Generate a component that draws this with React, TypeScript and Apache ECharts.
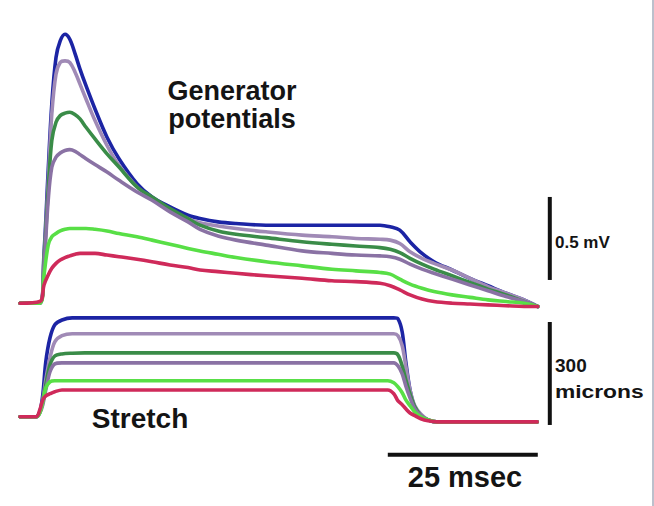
import { useEffect, useRef } from "react";
import * as echarts from "echarts";

// ---- Generator potentials (mV) ----
const potentialTimeMs = [
  0, 3.3, 4, 4.7, 5.3, 6, 6.7, 7.5, 8.3, 9.2, 10, 11, 12.5, 14.5, 16.5, 19.5, 22, 25, 28, 30,
  33, 36, 41, 47, 52, 56, 60, 61.7, 63.3, 65, 67, 69, 72, 75, 78, 81, 84, 86.3,
];
const potentialBlue = [
  0, 0, 0.3, 0.8, 1.2, 1.48, 1.58, 1.62, 1.59, 1.5, 1.41, 1.31, 1.17, 1.0, 0.87, 0.72, 0.64, 0.58, 0.53, 0.51,
  0.49, 0.48, 0.47, 0.47, 0.47, 0.47, 0.47, 0.46, 0.44, 0.37, 0.3, 0.25, 0.2, 0.15, 0.105, 0.06, 0.02, -0.02,
];
const potentialLavender = [
  0, 0, 0.28, 0.73, 1.14, 1.38, 1.45, 1.46, 1.45, 1.39, 1.32, 1.23, 1.1, 0.95, 0.83, 0.7, 0.63, 0.56, 0.51, 0.485,
  0.465, 0.45, 0.43, 0.41, 0.4, 0.39, 0.385, 0.38, 0.36, 0.31, 0.27, 0.24, 0.2, 0.15, 0.1, 0.06, 0.02, -0.02,
];
const potentialGreen = [
  0, 0, 0.26, 0.68, 0.98, 1.09, 1.13, 1.145, 1.15, 1.135, 1.11, 1.06, 0.99, 0.9, 0.82, 0.7, 0.64, 0.57, 0.51, 0.47,
  0.435, 0.415, 0.395, 0.37, 0.355, 0.345, 0.335, 0.325, 0.305, 0.27, 0.235, 0.205, 0.165, 0.125, 0.085, 0.05, 0.01, -0.02,
];
const potentialPurple = [
  0, 0, 0.23, 0.62, 0.82, 0.88, 0.905, 0.92, 0.925, 0.915, 0.895, 0.87, 0.835, 0.79, 0.74, 0.67, 0.62, 0.55, 0.49, 0.445,
  0.405, 0.38, 0.35, 0.315, 0.3, 0.29, 0.285, 0.28, 0.265, 0.235, 0.205, 0.18, 0.145, 0.11, 0.075, 0.04, 0.01, -0.02,
];
const potentialLightGreen = [
  0, 0, 0.17, 0.35, 0.4, 0.42, 0.435, 0.445, 0.45, 0.45, 0.45, 0.45, 0.445, 0.435, 0.42, 0.4, 0.38, 0.355, 0.33, 0.315,
  0.295, 0.275, 0.25, 0.225, 0.205, 0.195, 0.185, 0.175, 0.145, 0.115, 0.09, 0.07, 0.05, 0.035, 0.02, 0.01, 0, -0.02,
];
const potentialCrimson = [
  0, 0.01, 0.11, 0.17, 0.21, 0.24, 0.26, 0.275, 0.285, 0.295, 0.3, 0.3, 0.3, 0.29, 0.28, 0.265, 0.25, 0.23, 0.215, 0.2,
  0.19, 0.18, 0.165, 0.15, 0.135, 0.13, 0.12, 0.105, 0.08, 0.05, 0.025, 0.01, 0, -0.005, -0.01, -0.015, -0.02, -0.02,
];

// ---- Stretch (microns) ----
const stretchTimeMs = [
  0, 2.7, 3.3, 3.8, 4.3, 5, 5.8, 7, 8.7, 10.8, 20, 30, 46.7, 61.3, 62.3, 63, 63.7, 64.3, 65, 65.8,
  66.8, 68, 69.5, 73.3, 86.2,
];
const stretchBlue = [9, 9, 23, 73, 169, 239, 277, 291, 297, 297, 297, 297, 297, 297, 297, 294, 256, 169, 87, 35, 12, 0, -6, -6, -6];
const stretchLavender = [9, 9, 23, 58, 117, 181, 227, 245, 251, 251, 251, 251, 251, 251, 251, 245, 216, 157, 87, 41, 17, 0, -6, -6, -6];
const stretchGreen = [9, 9, 23, 52, 102, 160, 186, 192, 194, 195, 195, 195, 195, 195, 195, 189, 157, 117, 76, 38, 12, 0, -6, -6, -6];
const stretchPurple = [9, 9, 20, 44, 87, 140, 163, 166, 166, 166, 166, 166, 166, 166, 166, 157, 134, 99, 64, 32, 12, 0, -6, -6, -6];
const stretchLightGreen = [9, 9, 20, 52, 93, 111, 114, 114, 114, 114, 114, 114, 114, 114, 108, 96, 79, 58, 41, 23, 9, 0, -6, -6, -6];
const stretchCrimson = [9, 9, 29, 58, 70, 76, 82, 87, 87, 87, 87, 87, 87, 87, 76, 55, 44, 32, 20, 12, 3, -3, -6, -6, -6];

// ---- Scale bars ----
const scaleBarTimeMs = 88.3;
const voltageBarMv = [0.14, 0.64]; // 0.5 mV
const stretchBarMicrons = [-15, 285]; // 300 microns
const timeBarMs = [61.3, 86.3]; // 25 msec
const timeBarLevel = -102;

const traceColors = ["#1c24a4", "#a08ab6", "#3a8c48", "#8a72a4", "#58df46", "#cf2a5a"];
const potentialTraces = [potentialBlue, potentialLavender, potentialGreen, potentialPurple, potentialLightGreen, potentialCrimson];
const stretchTraces = [stretchBlue, stretchLavender, stretchGreen, stretchPurple, stretchLightGreen, stretchCrimson];

const FONT = '"Liberation Sans", Arial, Helvetica, sans-serif';

function zip(xs: number[], ys: number[]) {
  return xs.map((x, i) => [x, ys[i]]);
}

export default function App() {
  const ref = useRef<HTMLDivElement>(null);
  useEffect(() => {
    const chart = echarts.init(ref.current!, null, { renderer: "svg" });
    const traceSeries: any[] = [];
    traceColors.forEach((color, i) => {
      traceSeries.push({
        type: "line",
        xAxisIndex: 0,
        yAxisIndex: 0,
        data: zip(potentialTimeMs, potentialTraces[i]),
        symbol: "none",
        smooth: 0.35,
        clip: false,
        silent: true,
        z: 2 + i,
        lineStyle: { color, width: 3.6, cap: "round", join: "round" },
      });
      traceSeries.push({
        type: "line",
        xAxisIndex: 1,
        yAxisIndex: 1,
        data: zip(stretchTimeMs, stretchTraces[i]),
        symbol: "none",
        smooth: 0.3,
        clip: false,
        silent: true,
        z: 2 + i,
        lineStyle: { color, width: 3.6, cap: "round", join: "round" },
      });
    });
    const bar = (xi: number, data: number[][]) => ({
      type: "line",
      xAxisIndex: xi,
      yAxisIndex: xi,
      data,
      symbol: "none",
      clip: false,
      silent: true,
      z: 10,
      lineStyle: { color: "#111", width: 4, cap: "butt" },
    });
    const textStyle = (text: string, size: number, align: string) => ({
      text,
      fontSize: size,
      fontWeight: "bold",
      fontFamily: FONT,
      fill: "#141414",
      textAlign: align,
      textVerticalAlign: "middle",
    });
    chart.setOption({
      animation: false,
      backgroundColor: "#ffffff",
      grid: [
        { left: 20, width: 540, top: 21, height: 298.8 },
        { left: 20, width: 540, top: 310, height: 151 },
      ],
      xAxis: [
        { type: "value", gridIndex: 0, min: 0, max: 90, show: false },
        { type: "value", gridIndex: 1, min: 0, max: 90, show: false },
      ],
      yAxis: [
        { type: "value", gridIndex: 0, min: -0.1, max: 1.7, show: false },
        { type: "value", gridIndex: 1, min: -120, max: 320, show: false },
      ],
      series: [
        ...traceSeries,
        bar(0, [[scaleBarTimeMs, voltageBarMv[0]], [scaleBarTimeMs, voltageBarMv[1]]]),
        bar(1, [[scaleBarTimeMs, stretchBarMicrons[0]], [scaleBarTimeMs, stretchBarMicrons[1]]]),
        bar(1, [[timeBarMs[0], timeBarLevel], [timeBarMs[1], timeBarLevel]]),
      ],
      graphic: [
        { type: "rect", shape: { x: 652, y: 0, width: 2, height: 506 }, style: { fill: "#bcc0cc" }, silent: true },
        { type: "text", x: 232, y: 91, style: textStyle("Generator", 27, "center") },
        { type: "text", x: 232, y: 118.5, style: textStyle("potentials", 27, "center") },
        { type: "text", x: 140, y: 418, style: textStyle("Stretch", 28, "center") },
        { type: "text", x: 465, y: 477, style: textStyle("25 msec", 29, "center") },
        { type: "text", x: 555, y: 242.5, style: textStyle("0.5 mV", 17, "left") },
        { type: "text", x: 555, y: 365, style: textStyle("300", 19, "left") },
        { type: "text", x: 555, y: 391.5, scaleX: 1.2, style: textStyle("microns", 19, "left") },
      ],
    });
    return () => chart.dispose();
  }, []);
  return (
    <div
      ref={ref}
      style={{ position: "fixed", left: 0, top: 0, width: 654, height: 506, background: "#ffffff" }}
    />
  );
}
